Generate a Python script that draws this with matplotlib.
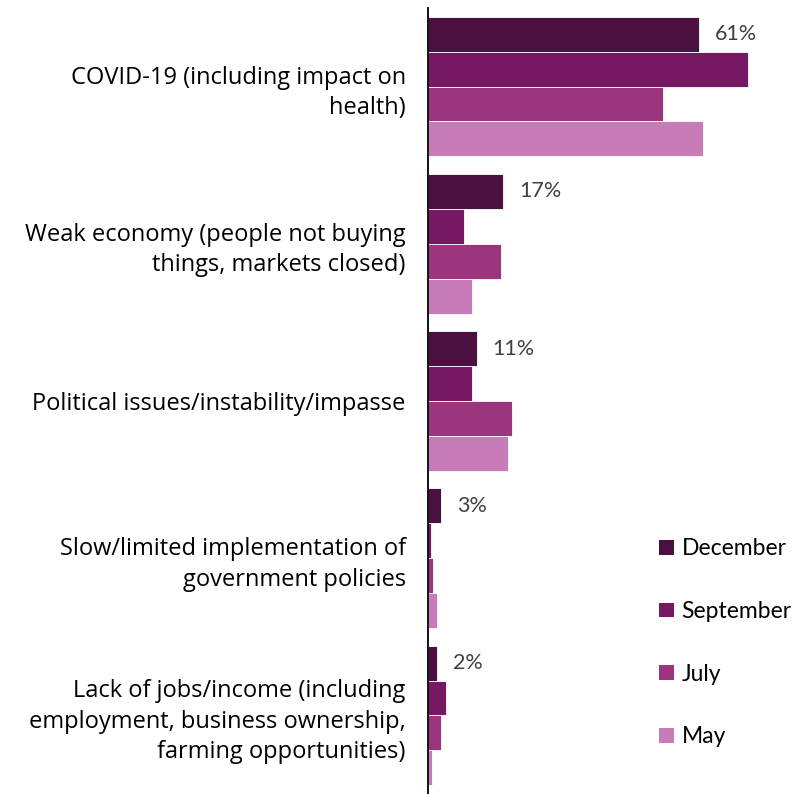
import matplotlib.pyplot as plt
import numpy as np
from matplotlib.patches import Patch

# data (percent)
categories = [
    "COVID-19 (including impact on\nhealth)",
    "Weak economy (people not buying\nthings, markets closed)",
    "Political issues/instability/impasse",
    "Slow/limited implementation of\ngovernment policies",
    "Lack of jobs/income (including\nemployment, business ownership,\nfarming opportunities)",
]
months = ["December", "September", "July", "May"]
december = [61, 17, 11, 3, 2]
september = [72, 8, 10, 0.7, 4]
july = [53, 16.5, 19, 1.2, 3]
may = [62, 10, 18, 2, 1]
colors = ["#4A1140", "#761862", "#9B357D", "#C77BB7"]

series = [december, september, july, may]

fig = plt.figure(figsize=(8.01, 7.94), dpi=100)
ax = fig.add_axes([428 / 801, 0.0, 355 / 801, 786 / 794])

y = np.arange(len(categories))
bar_h = 0.222
for i, (vals, col) in enumerate(zip(series, colors)):
    offs = (i - 1.5) * bar_h
    ax.barh(y + offs, vals, height=bar_h, color=col, edgecolor="white",
            linewidth=0.6, label=months[i])

# value labels on December bars only
for yi, v in zip(y, december):
    ax.text(v + 3.6, yi - 1.5 * bar_h, f"{v}%", va="center", ha="left",
            fontsize=15.5, color="#404040", family="Lato")

ax.set_xlim(0, 80)
ax.set_ylim(4.5, -0.5)
ax.set_yticks(y)
ax.set_yticklabels(categories, fontsize=17, family="Open Sans",
                   linespacing=1.36)
for lbl in ax.get_yticklabels():
    lbl.set_multialignment("right")
ax.tick_params(axis="y", length=0, pad=16)
ax.set_xticks([])
for s in ["top", "right", "bottom"]:
    ax.spines[s].set_visible(False)
ax.spines["left"].set_linewidth(1.3)
ax.spines["left"].set_color("black")

handles = [Patch(facecolor=c, edgecolor="none") for c in colors]
fig.legend(handles, months, loc="upper left", bbox_to_anchor=(641 / 801, 1 - 520 / 794),
           frameon=False, handlelength=0.62, handleheight=0.62, handletextpad=0.35,
           labelspacing=1.82, borderpad=0.3, prop={"family": "Lato", "size": 16.5})

fig.savefig("out.png", dpi=100)
